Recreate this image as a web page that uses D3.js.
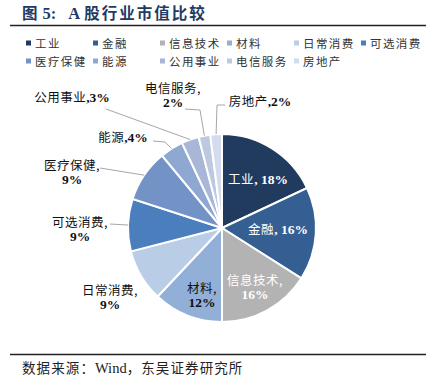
<!DOCTYPE html>
<html>
<head>
<meta charset="utf-8">
<script src="https://cdn.jsdelivr.net/npm/d3@7"></script>
<style>
  html, body { margin: 0; padding: 0; background: #fff; }
  svg { display: block; }
</style>
</head>
<body>
<div id="chart"></div>
<script>
const WIDTH = 426;
const HEIGHT = 389;
const CX = 222;
const CY = 228;
const RADIUS = 94;
const CJK = "'Noto Sans CJK SC', sans-serif";
const NUM = "'Liberation Serif', 'Times New Roman', serif";

// data
const categories = ["工业", "金融", "信息技术", "材料", "日常消费", "可选消费",
  "医疗保健", "能源", "公用事业", "电信服务", "房地产"];
const shares = [18, 16, 16, 12, 9, 9, 9, 4, 3, 2, 2];
const colors = ["#213b5e", "#355f93", "#b3b3b3", "#92afd8", "#b9cde6", "#4a7ebd",
  "#7393c6", "#8fa8d1", "#a8b7d7", "#bdc9e1", "#d3dcee"];

// label placement (offset from pie centre), line break and leader knees
const labelLayout = {
  "工业":   { dx: 36,   dy: -49, wrap: false, fill: "#fff" },
  "金融":   { dx: 56,   dy: 1,   wrap: false, fill: "#fff" },
  "信息技术": { dx: 33, dy: 59,  wrap: true,  fill: "#fff" },
  "材料":   { dx: -20,  dy: 67,  wrap: true,  fill: "#111" },
  "日常消费": { dx: -112, dy: 69, wrap: true, fill: "#111" },
  "可选消费": { dx: -142, dy: 1,  wrap: true, fill: "#111", leader: [[-112, -4]] },
  "医疗保健": { dx: -150, dy: -56, wrap: true, fill: "#111", leader: [[-122, -60]] },
  "能源":   { dx: -99,  dy: -91, wrap: false, fill: "#111", tight: true, leader: [[-69, -87], [-57, -86]] },
  "公用事业": { dx: -150, dy: -131, wrap: false, fill: "#111", tight: true, leader: [[-116, -119]] },
  "电信服务": { dx: -49, dy: -133, wrap: true, fill: "#111", leader: [[-37, -119], [-22, -118]] },
  "房地产":  { dx: 38,  dy: -127, wrap: false, fill: "#111", tight: true, leader: [[3, -123], [-5, -123]] }
};

const svg = d3.select("#chart").append("svg")
  .attr("width", WIDTH)
  .attr("height", HEIGHT);

// title
const title = svg.append("text")
  .attr("x", 22).attr("y", 19)
  .attr("fill", "#1f3a63")
  .attr("font-size", 15.5)
  .attr("font-weight", "bold");
title.append("tspan").attr("font-family", CJK).text("图");
title.append("tspan").attr("dx", 5).attr("font-family", NUM).attr("font-size", 16.5).text("5:");
title.append("tspan").attr("dx", 12).attr("font-family", NUM).attr("font-size", 16.5).text("A");
title.append("tspan").attr("dx", 4).attr("font-family", CJK).attr("letter-spacing", 2).text("股行业市值比较");

svg.append("line")
  .attr("x1", 10).attr("x2", WIDTH).attr("y1", 25.5).attr("y2", 25.5)
  .attr("stroke", "#222").attr("stroke-width", 1.4);

// legend
const legend = svg.append("g");
const legendItem = legend.selectAll("g")
  .data(categories)
  .join("g")
  .attr("transform", (d, i) => `translate(${26 + (i % 6) * 67},${43 + Math.floor(i / 6) * 18})`);
legendItem.append("rect")
  .attr("x", 0).attr("y", -2.5).attr("width", 5).attr("height", 5)
  .attr("fill", (d, i) => colors[i]);
legendItem.append("text")
  .attr("x", 9).attr("y", 4.5)
  .attr("font-family", CJK)
  .attr("font-size", 11.5)
  .attr("letter-spacing", 1.4)
  .attr("fill", "#333")
  .text(d => d);

// pie
const pie = d3.pie().sort(null).value(d => d);
const arc = d3.arc().innerRadius(0).outerRadius(RADIUS);
const edgeArc = d3.arc().innerRadius(RADIUS).outerRadius(RADIUS);
const arcs = pie(shares);

const g = svg.append("g").attr("transform", `translate(${CX},${CY})`);

g.selectAll("path.slice")
  .data(arcs)
  .join("path")
  .attr("class", "slice")
  .attr("d", arc)
  .attr("fill", (d, i) => colors[i])
  .attr("stroke", "#fff")
  .attr("stroke-width", 2);

// leader lines
arcs.forEach((a, i) => {
  const lay = labelLayout[categories[i]];
  if (!lay.leader) return;
  const pts = [...lay.leader, edgeArc.centroid(a)];
  g.append("path")
    .attr("d", d3.line()(pts))
    .attr("fill", "none")
    .attr("stroke", "#a6a6a6")
    .attr("stroke-width", 1);
});

// labels
arcs.forEach((a, i) => {
  const name = categories[i];
  const lay = labelLayout[name];
  const pct = `${shares[i]}%`;
  const t = g.append("text")
    .attr("text-anchor", "middle")
    .attr("fill", lay.fill)
    .attr("font-size", 12.5);
  if (lay.wrap) {
    const y0 = lay.dy - 7 + 4.5;
    t.append("tspan").attr("x", lay.dx).attr("y", y0)
      .attr("font-family", CJK).attr("letter-spacing", 0.5).text(name + ",");
    t.append("tspan").attr("x", lay.dx).attr("y", y0 + 14.5)
      .attr("font-family", NUM).attr("font-weight", "bold").attr("font-size", 13.5).text(pct);
  } else {
    t.attr("x", lay.dx).attr("y", lay.dy + 4.5);
    t.append("tspan").attr("font-family", CJK).attr("letter-spacing", 0.5).text(name);
    t.append("tspan").attr("font-family", NUM).attr("font-weight", "bold").attr("font-size", 13.5)
      .text(lay.tight ? "," + pct : ", " + pct);
  }
});

// footer
svg.append("line")
  .attr("x1", 10).attr("x2", WIDTH).attr("y1", 354.5).attr("y2", 354.5)
  .attr("stroke", "#222").attr("stroke-width", 1.4);

const foot = svg.append("text")
  .attr("x", 22).attr("y", 373)
  .attr("font-size", 13.5)
  .attr("letter-spacing", 1.1)
  .attr("fill", "#222");
foot.append("tspan").attr("font-family", CJK).text("数据来源：");
foot.append("tspan").attr("font-family", NUM).attr("font-size", 14.5).attr("letter-spacing", 0).text("Wind");
foot.append("tspan").attr("font-family", CJK).text("，东吴证券研究所");
</script>
</body>
</html>
